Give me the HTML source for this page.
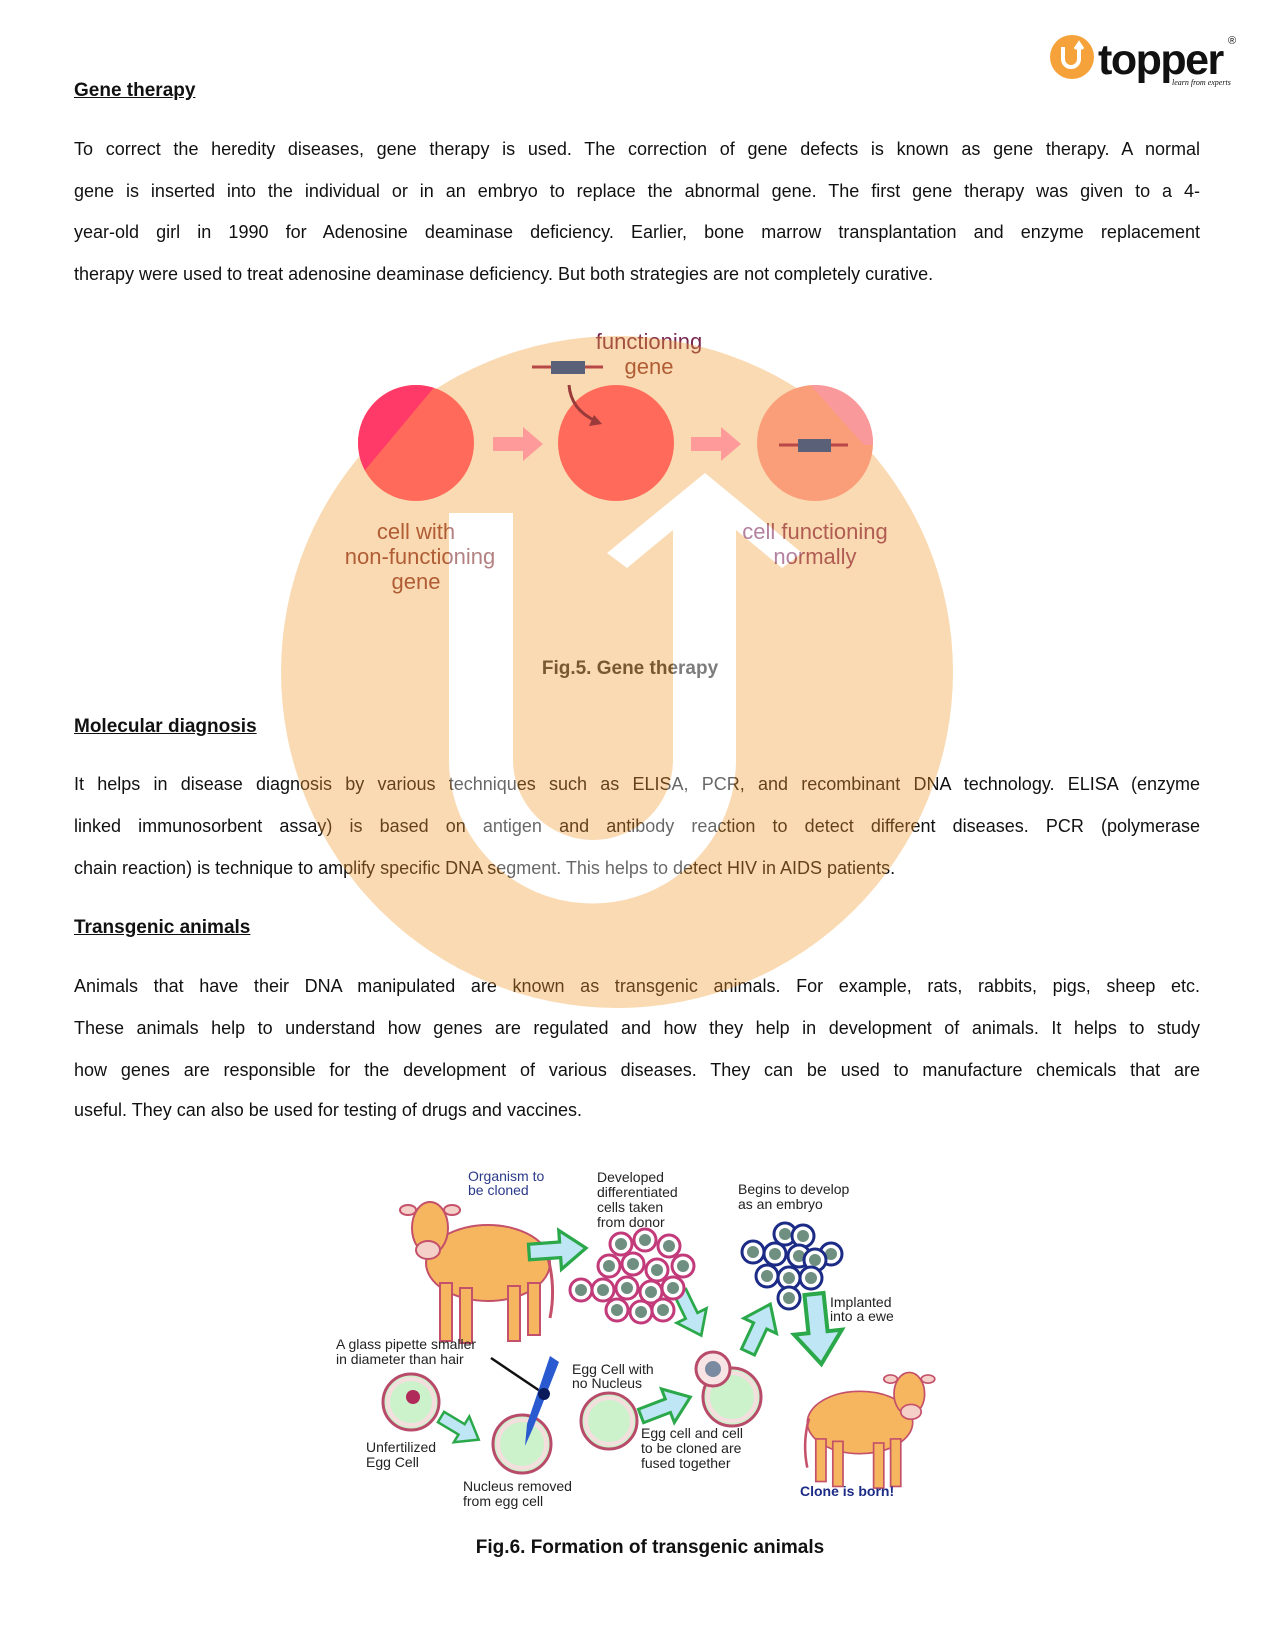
<!DOCTYPE html>
<html><head><meta charset="utf-8"><style>
html,body{margin:0;padding:0;background:#fff}
body{width:1275px;height:1650px;position:relative;overflow:hidden;font-family:"Liberation Sans",sans-serif;color:#111}
.l{position:absolute;left:74px;width:1114px;font-size:18px;line-height:22px;white-space:nowrap;text-align:justify;text-align-last:justify}
.n{text-align-last:left}
.h{position:absolute;left:74px;font-size:19px;font-weight:bold;text-decoration:underline;line-height:22px}
.cap{position:absolute;font-size:19px;font-weight:bold;line-height:22px;transform:translateX(-50%);white-space:nowrap}
svg{position:absolute;left:0;top:0}
</style></head><body>

<!-- logo -->
<svg width="1275" height="110" style="z-index:3">
<circle cx="1072" cy="57" r="22" fill="#f6a23a"/>
<path d="M1063 47 v12 a8 8 0 0 0 16 0 v-14" stroke="#fff" stroke-width="4" fill="none"/>
<path d="M1075 49 l4 -6 l4 6" stroke="#fff" stroke-width="3" fill="none"/>
<text x="1098" y="74" font-family="Liberation Sans" font-weight="bold" font-size="43" fill="#111" letter-spacing="-1.5">topper</text>
<text x="1228" y="44" font-family="Liberation Sans" font-size="11" fill="#111">®</text>
<text x="1172" y="85" font-family="Liberation Serif" font-style="italic" font-size="8" fill="#111">learn from experts</text>
</svg>

<div class="h" style="top:80px">Gene therapy</div>
<div class="l" style="top:138px;width:1126px">To correct the heredity diseases, gene therapy is used. The correction of gene defects is known as gene therapy. A normal</div>
<div class="l" style="top:180px;width:1126px">gene is inserted into the individual or in an embryo to replace the abnormal gene. The first gene therapy was given to a 4-</div>
<div class="l" style="top:221px;width:1126px">year-old girl in 1990 for Adenosine deaminase deficiency. Earlier, bone marrow transplantation and enzyme replacement</div>
<div class="l n" style="top:263px">therapy were used to treat adenosine deaminase deficiency. But both strategies are not completely curative.</div>

<!-- Fig 5 labels -->
<svg width="1275" height="700">
<g transform="translate(6,5)">
<g font-family="Liberation Sans" font-size="22" text-anchor="middle" fill="#8a3a3a">
<text x="643" y="344" fill="#7a2850">functioning</text>
<text x="643" y="369">gene</text>
<text x="410" y="534">cell with</text>
<text x="414" y="559">non-functioning</text>
<text x="410" y="584">gene</text>
<text x="809" y="534" fill="#8a3a6a">cell functioning</text>
<text x="809" y="559" fill="#8a3a6a">normally</text>
</g>
</g>
</svg>
<div class="cap" style="left:630px;top:658px;color:#333">Fig.5. Gene therapy</div>

<div class="h" style="top:716px">Molecular diagnosis</div>
<div class="l" style="top:773px;width:1126px">It helps in disease diagnosis by various techniques such as ELISA, PCR, and recombinant DNA technology. ELISA (enzyme</div>
<div class="l" style="top:815px;width:1126px">linked immunosorbent assay) is based on antigen and antibody reaction to detect different diseases. PCR (polymerase</div>
<div class="l n" style="top:857px">chain reaction) is technique to amplify specific DNA segment. This helps to detect HIV in AIDS patients.</div>

<div class="h" style="top:917px">Transgenic animals</div>
<div class="l" style="top:975px;width:1126px">Animals that have their DNA manipulated are known as transgenic animals. For example, rats, rabbits, pigs, sheep etc.</div>
<div class="l" style="top:1017px;width:1126px">These animals help to understand how genes are regulated and how they help in development of animals. It helps to study</div>
<div class="l" style="top:1059px;width:1126px">how genes are responsible for the development of various diseases. They can be used to manufacture chemicals that are</div>
<div class="l n" style="top:1099px">useful. They can also be used for testing of drugs and vaccines.</div>

<!-- watermark -->
<svg width="1275" height="1100" style="z-index:2;opacity:0.36">
<defs><clipPath id="wc"><circle cx="617" cy="672" r="336"/></clipPath></defs>
<circle cx="617" cy="672" r="336" fill="#f39a2c"/>
<g clip-path="url(#wc)" fill="#fff">
<path d="M449 513 H513 V760 A80 80 0 0 0 673 760 V567 H736 V760 A143 143 0 0 1 449 760 Z"/>
<polygon points="705,473 802,553 782,568 736,530 736,600 673,600 673,530 627,568 607,553"/>
</g>
</svg>

<!-- Fig 5 cells above watermark -->
<svg width="1275" height="700" style="z-index:4">
<defs><clipPath id="c1"><circle cx="410" cy="438" r="58"/></clipPath><clipPath id="c3"><circle cx="809" cy="438" r="58"/></clipPath></defs>
<g transform="translate(6,5)">
<circle cx="410" cy="438" r="58" fill="#ff6a5a"/>
<polygon points="340,380 430,380 355,470 340,470" fill="#ff3a68" clip-path="url(#c1)"/>
<circle cx="610" cy="438" r="58" fill="#ff6a5a"/>
<circle cx="809" cy="438" r="58" fill="#fa9e7a"/>
<polygon points="800,375 880,375 880,440 858,440" fill="#f9999c" clip-path="url(#c3)"/>
<polygon points="487,432 517,432 517,422 537,439 517,456 517,446 487,446" fill="#ff9a9a"/>
<polygon points="685,432 715,432 715,422 735,439 715,456 715,446 685,446" fill="#ff9a9a"/>
<line x1="773" y1="440" x2="842" y2="440" stroke="#b84848" stroke-width="3"/>
<rect x="792" y="434" width="33" height="13" fill="#5a6078"/>
<line x1="526" y1="362" x2="597" y2="362" stroke="#b84848" stroke-width="3"/>
<rect x="545" y="356" width="34" height="13" fill="#5a6078"/>
<path d="M563 380 Q565 405 590 416" stroke="#9a3a3a" stroke-width="3" fill="none"/>
<polygon points="596,419 583,421 588,410" fill="#9a3a3a"/>
</g>
</svg>

<!-- Fig 6 -->
<svg width="1275" height="1650">
<defs>
<g id="ar"><polygon points="0,-6 24,-6 24,-15 44,0 24,15 24,6 0,6" fill="#bfe6f4" stroke="#2aa84a" stroke-width="2.5"/></g>
<g id="pc"><circle r="11" fill="#fff" stroke="#c23a7a" stroke-width="3"/><circle r="6" fill="#6f8f80"/></g>
<g id="bc"><circle r="11" fill="#fff" stroke="#1c2c86" stroke-width="3"/><circle r="6" fill="#6f8f80"/></g>
<g id="cow">
<ellipse cx="80" cy="75" rx="62" ry="38" fill="#f6b660" stroke="#c4506a" stroke-width="2"/>
<rect x="32" y="95" width="12" height="58" fill="#f6b660" stroke="#c4506a" stroke-width="2"/>
<rect x="52" y="100" width="12" height="55" fill="#f6b660" stroke="#c4506a" stroke-width="2"/>
<rect x="100" y="98" width="12" height="55" fill="#f6b660" stroke="#c4506a" stroke-width="2"/>
<rect x="120" y="95" width="12" height="52" fill="#f6b660" stroke="#c4506a" stroke-width="2"/>
<ellipse cx="22" cy="40" rx="18" ry="26" fill="#f6b660" stroke="#c4506a" stroke-width="2"/>
<ellipse cx="20" cy="62" rx="12" ry="9" fill="#f4d0c8" stroke="#c4506a" stroke-width="2"/>
<ellipse cx="0" cy="22" rx="8" ry="5" fill="#f4d0c8" stroke="#c4506a" stroke-width="2"/>
<ellipse cx="44" cy="22" rx="8" ry="5" fill="#f4d0c8" stroke="#c4506a" stroke-width="2"/>
<path d="M140 70 q8 30 2 60" stroke="#c4506a" stroke-width="3" fill="none"/>
</g>
</defs>
<g transform="translate(3,16)">
<use href="#cow" transform="translate(405,1172)"/>
<use href="#cow" transform="translate(925,1345) scale(-0.85,0.82)"/>
<use href="#ar" transform="translate(526,1236) rotate(-4) scale(1.3)"/>
<use href="#ar" transform="translate(677,1276) rotate(64) scale(1.1)"/>
<use href="#ar" transform="translate(745,1336) rotate(-65) scale(1.2)"/>
<use href="#ar" transform="translate(811,1278) rotate(84) scale(1.6)"/>
<use href="#ar" transform="translate(438,1401) rotate(31)"/>
<use href="#ar" transform="translate(638,1400) rotate(-21) scale(1.2)"/>
<g>
<use href="#pc" x="578" y="1274"/>
<use href="#pc" x="618" y="1228"/><use href="#pc" x="642" y="1224"/><use href="#pc" x="666" y="1230"/><use href="#pc" x="680" y="1250"/>
<use href="#pc" x="606" y="1250"/><use href="#pc" x="630" y="1248"/><use href="#pc" x="654" y="1254"/>
<use href="#pc" x="600" y="1274"/><use href="#pc" x="624" y="1272"/><use href="#pc" x="648" y="1276"/><use href="#pc" x="670" y="1272"/>
<use href="#pc" x="614" y="1294"/><use href="#pc" x="638" y="1296"/><use href="#pc" x="660" y="1294"/>
</g>
<g>
<use href="#bc" x="782" y="1218"/><use href="#bc" x="800" y="1220"/>
<use href="#bc" x="750" y="1236"/><use href="#bc" x="772" y="1238"/><use href="#bc" x="796" y="1240"/><use href="#bc" x="828" y="1238"/><use href="#bc" x="812" y="1244"/>
<use href="#bc" x="764" y="1260"/><use href="#bc" x="786" y="1262"/><use href="#bc" x="808" y="1262"/>
<use href="#bc" x="786" y="1282"/>
</g>
<g fill="#ccf2cc" stroke="#b84a6a" stroke-width="3">
<circle cx="408" cy="1386" r="28"/><circle cx="519" cy="1428" r="29"/><circle cx="606" cy="1405" r="28"/><circle cx="729" cy="1381" r="29"/>
</g>
<g fill="none" stroke="#f4dede" stroke-width="4">
<circle cx="408" cy="1386" r="23"/><circle cx="519" cy="1428" r="24"/><circle cx="606" cy="1405" r="23"/><circle cx="729" cy="1381" r="24"/>
</g>
<circle cx="410" cy="1381" r="7" fill="#b02a5a"/>
<circle cx="710" cy="1353" r="17" fill="#f8e4e4" stroke="#b84a6a" stroke-width="3"/>
<circle cx="710" cy="1353" r="8" fill="#7a8aa0"/>
<line x1="488" y1="1342" x2="537" y2="1375" stroke="#111" stroke-width="2.5"/>
<path d="M547 1340 L556 1346 L530 1412 L522 1430 L524 1408 Z" fill="#2a5ad0"/>
<circle cx="541" cy="1378" r="6" fill="#0a1a5a"/>
<g font-family="Liberation Sans" font-size="14" fill="#222">
<text x="465" y="1165" fill="#2a3a8a">Organism to</text><text x="465" y="1179" fill="#2a3a8a">be cloned</text>
<text x="594" y="1166">Developed</text><text x="594" y="1181">differentiated</text><text x="594" y="1196">cells taken</text><text x="594" y="1211">from donor</text>
<text x="735" y="1178">Begins to develop</text><text x="735" y="1193">as an embryo</text>
<text x="827" y="1291">Implanted</text><text x="827" y="1305">into a ewe</text>
<text x="333" y="1333">A glass pipette smaller</text><text x="333" y="1348">in diameter than hair</text>
<text x="569" y="1358">Egg Cell with</text><text x="569" y="1372">no Nucleus</text>
<text x="363" y="1436">Unfertilized</text><text x="363" y="1451">Egg Cell</text>
<text x="638" y="1422">Egg cell and cell</text><text x="638" y="1437">to be cloned are</text><text x="638" y="1452">fused together</text>
<text x="460" y="1475">Nucleus removed</text><text x="460" y="1490">from egg cell</text>
<text x="797" y="1480" font-weight="bold" fill="#1c2c86">Clone is born!</text>
</g>
</g>
</svg>
<div class="cap" style="left:650px;top:1537px">Fig.6. Formation of transgenic animals</div>

</body></html>
